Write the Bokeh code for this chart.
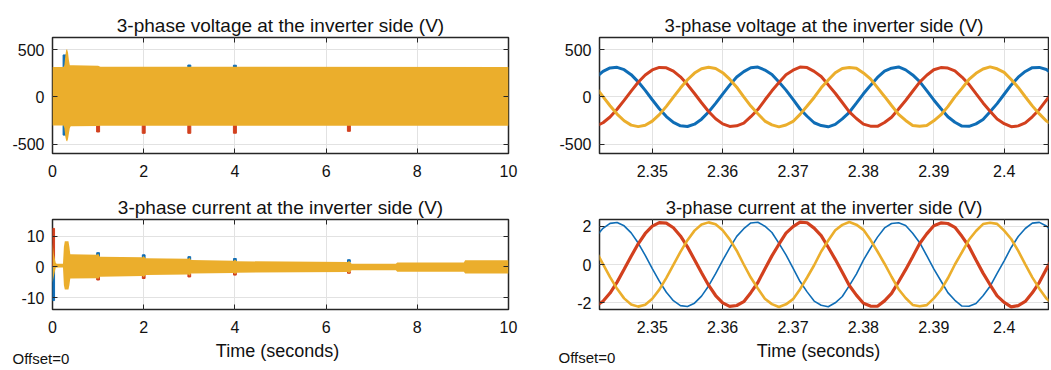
from bokeh.plotting import figure
from bokeh.models import FixedTicker, LinearAxis, Label, Range1d
from bokeh.layouts import row, column
from bokeh.embed import file_html
from bokeh.resources import INLINE

# ---------------- data ----------------
titles = ["3-phase voltage at the inverter side (V)",
          "3-phase current at the inverter side (V)"]
x_label = "Time (seconds)"
offset_text = "Offset=0"

# left panels (0-10 s): envelope of the dense 3-phase waveforms
xl_ticks = [0, 2, 4, 6, 8, 10]
xl_tick_labels = ["0", "2", "4", "6", "8", "10"]
volt_ticks = [-500, 0, 500]
volt_tick_labels = ["-500", "0", "500"]
cur_ticks = [-10, 0, 10]
cur_tick_labels = ["-10", "0", "10"]

volt_env_t = [0, 0.24, 0.26, 0.28, 0.30, 0.32, 0.34, 0.36, 0.38, 0.40, 0.45, 1.0, 1.05, 10]
volt_env_hi = [318, 318, 335, 430, 500, 505, 470, 390, 335, 335, 335, 330, 320, 318]
volt_env_lo = [-304, -304, -330, -420, -462, -472, -445, -385, -330, -312, -310, -308, -305, -305]

volt_blue_t = [0.265, 0.265, 3.0, 4.0]
volt_blue_top = [445, -300, 338, 336]
volt_blue_bot = [300, -405, 312, 312]
volt_red_t = [1.0, 2.0, 3.0, 4.0, 6.5]
volt_red_top = [-300, -300, -300, -300, -300]
volt_red_bot = [-372, -386, -386, -385, -365]

cur_env_t = [0, 0.03, 0.07, 0.09, 0.23, 0.25, 0.27, 0.35, 0.37, 0.39, 0.98, 1.0, 1.04,
             1.98, 2.0, 2.04, 2.98, 3.0, 3.04, 3.98, 4.0, 4.04, 6.48, 6.5, 6.56,
             7.53, 7.56, 9.02, 9.05, 10]
cur_env_hi = [7.8, 4.0, 1.3, 1.0, 1.0, 6.5, 8.3, 8.3, 6.5, 4.1, 3.9, 4.3, 3.3,
              3.1, 3.5, 2.8, 2.6, 3.0, 2.2, 2.0, 2.4, 1.8, 1.6, 2.0, 1.0,
              1.0, 1.4, 1.4, 2.1, 2.1]
cur_env_lo = [-5.2, -3.0, -0.3, -0.2, -0.2, -6.0, -7.4, -7.4, -6.0, -3.8, -3.7, -4.0, -3.2,
              -3.0, -3.4, -2.7, -2.5, -2.9, -2.2, -2.0, -2.4, -1.9, -1.7, -2.1, -1.1,
              -1.1, -1.6, -1.6, -2.2, -2.2]

cur_blue_t = [0.015, 1.0, 2.0, 3.0, 4.0, 6.5]
cur_blue_top = [0, 4.6, 3.9, 3.3, 2.7, 2.3]
cur_blue_bot = [-11.0, 3.0, 2.6, 2.2, 1.8, 1.5]
cur_red_t = [0.015, 1.0, 2.0, 3.0, 4.0, 6.5]
cur_red_top = [12.5, -3.0, -2.6, -2.2, -1.8, -1.5]
cur_red_bot = [0, -4.3, -3.8, -3.3, -2.7, -2.1]

# right panels (zoom 2.3425-2.4063 s)
xr_ticks = [2.35, 2.36, 2.37, 2.38, 2.39, 2.4]
xr_tick_labels = ["2.35", "2.36", "2.37", "2.38", "2.39", "2.4"]
cur_r_ticks = [-2, 0, 2]
cur_r_tick_labels = ["-2", "0", "2"]

t_zoom = [2.342, 2.343, 2.344, 2.345, 2.346, 2.347, 2.348, 2.349, 2.350, 2.351,
          2.352, 2.353, 2.354, 2.355, 2.356, 2.357, 2.358, 2.359, 2.360, 2.361,
          2.362, 2.363, 2.364, 2.365, 2.366, 2.367, 2.368, 2.369, 2.370, 2.371,
          2.372, 2.373, 2.374, 2.375, 2.376, 2.377, 2.378, 2.379, 2.380, 2.381,
          2.382, 2.383, 2.384, 2.385, 2.386, 2.387, 2.388, 2.389, 2.390, 2.391,
          2.392, 2.393, 2.394, 2.395, 2.396, 2.397, 2.398, 2.399, 2.400, 2.401,
          2.402, 2.403, 2.404, 2.405, 2.406, 2.407]

va = [208, 271, 307, 314, 289, 236, 160, 69, -30, -125, -208, -271, -307, -314, -289, -236, -160, -69, 30, 125,
      211, 268, 309, 316, 285, 238, 157, 72, -27, -128, -205, -274, -304, -317, -291, -233, -163, -66, 33, 122,
      206, 273, 305, 318, 287, 233, 162, 67, -32, -123, -210, -269, -309, -312, -286, -239, -157, -71, 28, 127,
      209, 270, 310, 313, 291, 234]
vb = [-309, -274, -213, -131, -36, 62, 155, 232, 286, 313, 309, 274, 213, 131, 36, -62, -155, -232, -286, -313,
      -306, -277, -210, -134, -33, 65, 152, 235, 283, 316, 311, 271, 216, 128, 39, -59, -158, -229, -289, -310,
      -312, -271, -215, -128, -38, 60, 157, 230, 288, 311, 306, 277, 211, 133, 34, -64, -152, -235, -284, -316,
      -307, -276, -211, -133, -34, 63]
vc = [100, 3, -94, -182, -253, -299, -315, -301, -257, -188, -100, -3, 94, 182, 253, 299, 315, 301, 257, 188,
      103, 0, -97, -179, -256, -296, -318, -298, -260, -185, -97, -6, 97, 179, 256, 302, 312, 304, 254, 191,
      98, 5, -91, -185, -250, -302, -312, -304, -254, -191, -103, 0, 91, 185, 250, 296, 318, 298, 260, 185,
      101, 2, -95, -180, -255, -298]

ia = [1.45, 1.89, 2.15, 2.19, 2.02, 1.65, 1.12, 0.48, -0.21, -0.87, -1.45, -1.89, -2.15, -2.19, -2.02, -1.65, -1.12, -0.48, 0.21, 0.87,
      1.47, 1.87, 2.17, 2.21, 2.00, 1.67, 1.10, 0.50, -0.19, -0.89, -1.43, -1.91, -2.13, -2.21, -2.00, -1.67, -1.10, -0.50, 0.23, 0.85,
      1.43, 1.91, 2.14, 2.18, 2.04, 1.63, 1.14, 0.46, -0.23, -0.85, -1.47, -1.87, -2.17, -2.18, -2.04, -1.63, -1.14, -0.46, 0.19, 0.89,
      1.46, 1.88, 2.16, 2.20, 2.01, 1.66]
ib = [-2.16, -1.92, -1.49, -0.92, -0.25, 0.43, 1.08, 1.62, 2.00, 2.19, 2.16, 1.92, 1.49, 0.92, 0.25, -0.43, -1.08, -1.62, -2.00, -2.19,
      -2.14, -1.94, -1.47, -0.94, -0.23, 0.45, 1.06, 1.64, 1.98, 2.21, 2.18, 1.90, 1.51, 0.90, 0.27, -0.41, -1.10, -1.60, -2.02, -2.17,
      -2.18, -1.90, -1.51, -0.90, -0.27, 0.41, 1.10, 1.60, 2.02, 2.17, 2.14, 1.94, 1.47, 0.94, 0.23, -0.45, -1.06, -1.64, -1.98, -2.21,
      -2.15, -1.93, -1.48, -0.93, -0.24, 0.44]
ic = [0.70, 0.02, -0.66, -1.27, -1.77, -2.09, -2.20, -2.10, -1.79, -1.31, -0.70, -0.02, 0.66, 1.27, 1.77, 2.09, 2.20, 2.10, 1.79, 1.31,
      0.72, 0.00, -0.68, -1.25, -1.79, -2.07, -2.22, -2.08, -1.81, -1.29, -0.68, -0.04, 0.68, 1.25, 1.79, 2.07, 2.22, 2.08, 1.81, 1.29,
      0.68, 0.04, -0.64, -1.29, -1.75, -2.11, -2.18, -2.12, -1.77, -1.33, -0.72, 0.00, 0.64, 1.29, 1.75, 2.11, 2.18, 2.12, 1.77, 1.33,
      0.71, 0.01, -0.67, -1.26, -1.78, -2.08]

# ---------------- style ----------------
FONT = "Liberation Sans"
BLUE = "#0F6DB6"
RED = "#D2401E"
YEL = "#EBAE2C"
DARK = "#262626"
GRID = "#E2E2E2"
TXT = "#111111"


def make_fig(width, height, bl, br, bt, bb, xr, yr, xticks, xlabels, yticks, ylabels, title,
             title_size="19px"):
    p = figure(width=width, height=height, x_range=xr, y_range=yr,
               output_backend="svg", toolbar_location=None,
               min_border_left=bl, min_border_right=br,
               min_border_top=bt, min_border_bottom=bb)
    p.background_fill_color = "white"
    p.border_fill_color = "white"
    p.outline_line_color = DARK
    p.outline_line_width = 1.5
    p.title.text = title
    p.title.align = "center"
    p.title.text_font = FONT
    p.title.text_font_size = title_size
    p.title.text_font_style = "normal"
    p.title.text_color = TXT
    p.title.standoff = 4
    p.xaxis.ticker = FixedTicker(ticks=xticks)
    p.yaxis.ticker = FixedTicker(ticks=yticks)
    p.xaxis.major_label_overrides = dict(zip(xticks, xlabels))
    p.yaxis.major_label_overrides = dict(zip(yticks, ylabels))
    for ax in (p.xaxis[0], p.yaxis[0]):
        ax.axis_line_color = None
        ax.major_tick_in = 5
        ax.major_tick_out = 0
        ax.major_tick_line_color = DARK
        ax.minor_tick_line_color = None
        ax.major_label_text_font = FONT
        ax.major_label_text_font_size = "16px"
        ax.major_label_text_color = TXT
    p.xaxis.major_label_standoff = 11
    p.yaxis.major_label_standoff = 8
    for loc, ticks in (("above", xticks), ("right", yticks)):
        ax = LinearAxis(ticker=FixedTicker(ticks=ticks), major_label_text_font_size="1px",
                        major_label_text_color=None,
                        major_label_standoff=0, major_tick_in=5, major_tick_out=0,
                        minor_tick_line_color=None, axis_line_color=None,
                        major_tick_line_color=DARK)
        p.add_layout(ax, loc)
    p.xgrid.grid_line_color = GRID
    p.ygrid.grid_line_color = GRID
    return p


# top-left: voltage, full run
p1 = make_fig(556, 190, 52, 48, 37, 37, Range1d(0, 10), Range1d(-600, 630),
              xl_ticks, xl_tick_labels, volt_ticks, volt_tick_labels, titles[0])
p1.vbar(x=volt_blue_t, top=volt_blue_top, bottom=volt_blue_bot, width=0.065, color=BLUE)
p1.vbar(x=volt_red_t, top=volt_red_top, bottom=volt_red_bot, width=0.065, color=RED)
p1.varea(x=volt_env_t, y1=volt_env_lo, y2=volt_env_hi, fill_color=YEL)

# bottom-left: current, full run
p3 = make_fig(556, 148, 52, 48, 29, 29, Range1d(0, 10), Range1d(-13.9, 15.4),
              xl_ticks, xl_tick_labels, cur_ticks, cur_tick_labels, titles[1])
p3.vbar(x=cur_blue_t, top=cur_blue_top, bottom=cur_blue_bot, width=0.06, color=BLUE)
p3.vbar(x=cur_red_t, top=cur_red_top, bottom=cur_red_bot, width=0.06, color=RED)
p3.varea(x=cur_env_t, y1=cur_env_lo, y2=cur_env_hi, fill_color=YEL)

# top-right: voltage zoom
p2 = make_fig(493, 190, 41, 1, 37, 37, Range1d(2.3425, 2.4063), Range1d(-600, 630),
              xr_ticks, xr_tick_labels, volt_ticks, volt_tick_labels, titles[0], "18.5px")
p2.line(t_zoom, va, line_color=BLUE, line_width=3)
p2.line(t_zoom, vb, line_color=RED, line_width=3)
p2.line(t_zoom, vc, line_color=YEL, line_width=3)

# bottom-right: current zoom
p4 = make_fig(493, 148, 41, 1, 29, 29, Range1d(2.3425, 2.4063), Range1d(-2.35, 2.35),
              xr_ticks, xr_tick_labels, cur_r_ticks, cur_r_tick_labels, titles[1], "18.5px")
p4.line(t_zoom, ia, line_color=BLUE, line_width=1.6)
p4.line(t_zoom, ib, line_color=RED, line_width=3.2)
p4.line(t_zoom, ic, line_color=YEL, line_width=2.6)

# strip holding the x-axis titles and the "Offset=0" notes
strip = figure(width=1049, height=30, x_range=Range1d(0, 1), y_range=Range1d(0, 1),
               x_axis_type=None, y_axis_type=None, output_backend="svg",
               toolbar_location=None, min_border=0)
strip.outline_line_color = None
strip.border_fill_color = "white"
strip.background_fill_color = "white"
for tx, ty, ox, oy in ((277, 18, 12, 10), (818, 18, 558, 11)):
    strip.add_layout(Label(x=tx, y=ty, x_units="screen", y_units="screen", text=x_label,
                           text_font=FONT, text_font_size="18px", text_color=TXT,
                           text_align="center", text_baseline="alphabetic"))
    strip.add_layout(Label(x=ox, y=oy, x_units="screen", y_units="screen", text=offset_text,
                           text_font=FONT, text_font_size="15px", text_color=TXT,
                           text_baseline="alphabetic"))

layout = column(row(column(p1, p3), column(p2, p4)), strip)
open("out.html", "w").write(file_html(layout, INLINE))
